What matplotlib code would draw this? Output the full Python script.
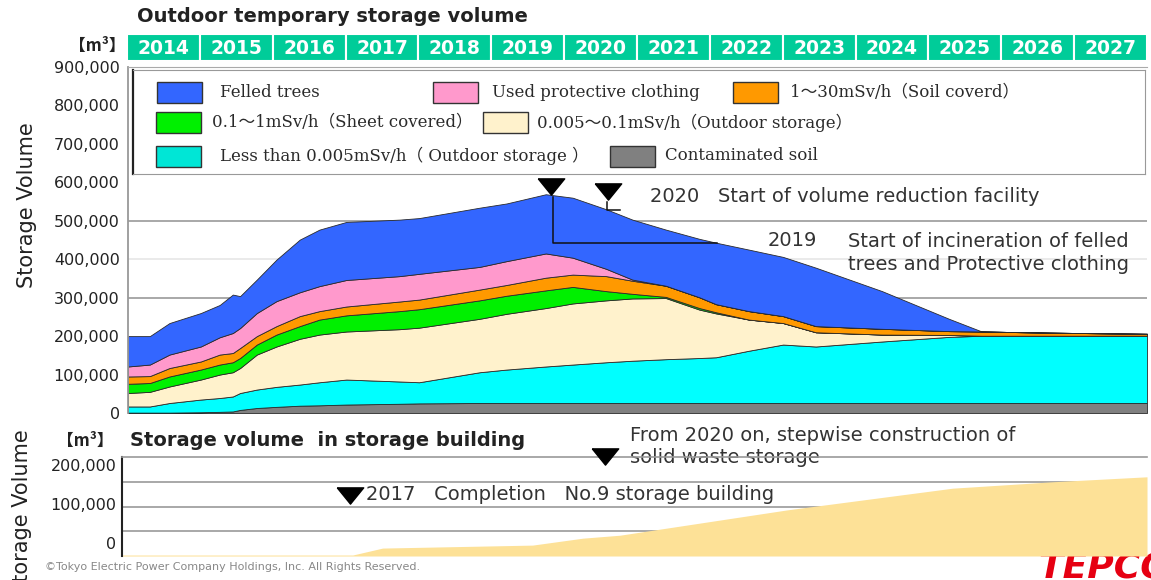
import matplotlib
matplotlib.use("Agg")
import matplotlib.pyplot as plt
from matplotlib.patches import Rectangle
from matplotlib.ticker import FuncFormatter

# ---------------- data (thousand m3) ----------------
years = list(range(2014, 2028))

t = [2014.0, 2014.3, 2014.57, 2015.0, 2015.26, 2015.44, 2015.54, 2015.77, 2016.04, 2016.36,
     2016.63, 2017.0, 2017.73, 2018.0, 2018.83, 2019.2, 2019.74, 2020.11, 2020.57, 2020.93,
     2021.39, 2021.85, 2022.08, 2022.53, 2023.0, 2023.45, 2024.36, 2025.28, 2025.73, 2026.65, 2028.0]

soil       = [1, 1, 1, 2, 3, 4, 8, 13, 16, 19, 20, 22, 24, 25, 26, 26, 26, 26, 26, 26,
              26, 26, 26, 26, 26, 26, 26, 26, 26, 26, 26]
below_0005 = [16, 16, 25, 33, 36, 39, 44, 48, 52, 55, 60, 65, 58, 55, 80, 87, 95, 100, 106, 110,
              114, 117, 119, 136, 152, 147, 160, 172, 175, 175, 175]
r0005_01   = [35, 38, 43, 52, 61, 63, 65, 91, 105, 119, 124, 125, 136, 142, 139, 145, 152, 159, 161, 162,
              159, 126, 114, 81, 56, 37, 18, 5, 0, 0, 0]
r01_1      = [24, 23, 26, 26, 26, 26, 26, 26, 31, 33, 39, 42, 47, 48, 48, 47, 46, 43, 24, 12,
              3, 4, 3, 0, 0, 0, 0, 0, 0, 0, 0]
r1_30      = [19, 18, 22, 21, 26, 24, 26, 22, 22, 26, 22, 23, 25, 25, 28, 28, 33, 32, 39, 34,
              29, 28, 21, 22, 18, 16, 15, 10, 11, 8, 5]
clothing   = [26, 30, 35, 39, 45, 52, 52, 60, 65, 62, 65, 69, 66, 67, 59, 62, 63, 44, 19, 3,
              0, 0, 0, 0, 0, 0, 0, 0, 0, 0, 0]
felled     = [79, 74, 82, 87, 84, 100, 83, 87, 108, 137, 147, 151, 147, 145, 154, 150, 154, 156, 155, 156,
              146, 152, 160, 160, 154, 152, 98, 32, 0, 0, 0]

bld_t = [2013.92, 2017.09, 2017.5, 2019.56, 2020.25, 2020.76, 2023.05, 2025.33, 2026.71, 2028.0]
bld_v = [2, 2, 16, 22, 36, 42, 93, 137, 150, 160]

labels = ["Felled trees", "Used protective clothing", "1～30mSv/h（Soil coverd）",
          "0.1～1mSv/h（Sheet covered）", "0.005～0.1mSv/h（Outdoor storage）",
          "Less than 0.005mSv/h（ Outdoor storage ）", "Contaminated soil"]

C_SOIL, C_CYAN, C_BEIGE, C_GREEN = '#808080', '#00FFFF', '#FFF2CC', '#00F000'
C_ORANGE, C_PINK, C_BLUE = '#FF9900', '#FF99CC', '#3366FF'
C_HEAD = '#00CC99'
C_BLD = '#FDE197'

SANS = ['DejaVu Sans', 'Noto Sans CJK JP']
SERIF = ['DejaVu Serif', 'Noto Sans CJK JP']
CJK = ['Noto Sans CJK JP', 'DejaVu Sans']

W, H = 1151, 580
fig = plt.figure(figsize=(W / 100, H / 100), dpi=100)


def rect(l, tp, r, b):
    return [l / W, 1 - b / H, (r - l) / W, (b - tp) / H]


def fx(x):
    return x / W


def fy(y):
    return 1 - y / H


def kfmt(v, p=None):
    return f"{int(round(v * 1000)):,}"


tri = [(-1.3, 0.75), (1.3, 0.75), (0, -0.85), (-1.3, 0.75)]
ANN = dict(fontsize=14, family=SANS, color='#333')

# ---------------- top chart ----------------
ax = fig.add_axes(rect(128, 67, 1147, 413))
ax.set_xlim(2014, 2028)
ax.set_ylim(0, 900)
for v, c in [(300, '#9a9a9a'), (500, '#9a9a9a'), (400, '#e6e6e6')]:
    ax.axhline(v, color=c, lw=1.2, zorder=1)
ax.stackplot(t, soil, below_0005, r0005_01, r01_1, r1_30, clothing, felled,
             colors=[C_SOIL, C_CYAN, C_BEIGE, C_GREEN, C_ORANGE, C_PINK, C_BLUE],
             edgecolor='#2a2a2a', linewidth=0.6, zorder=2)
ax.set_xticks([])
ax.set_yticks(range(0, 901, 100))
ax.yaxis.set_major_formatter(FuncFormatter(kfmt))
ax.tick_params(axis='y', length=0, pad=6, labelsize=11.5, labelcolor='#222',
               labelfontfamily='DejaVu Sans')
for s in ['right', 'bottom']:
    ax.spines[s].set_visible(False)
ax.spines['left'].set_color('#999999')
ax.spines['left'].set_linewidth(1.3)
ax.spines['top'].set_color('#aaaaaa')

# event markers
ax.plot([2019.81], [590], marker=tri, ms=19, color='k', ls='none', clip_on=False, zorder=6)
ax.plot([2020.59], [577], marker=tri, ms=19, color='k', ls='none', clip_on=False, zorder=6)
ax.plot([2019.84, 2019.84, 2022.09], [563, 443, 443], color='#111', lw=1.1, zorder=5)
ax.plot([2020.58, 2020.58, 2020.76], [550, 527, 527], color='#111', lw=1.1, zorder=5)

# ---------------- legend box ----------------
lax = fig.add_axes(rect(133, 70, 1145, 174))
lax.set_xlim(133, 1145)
lax.set_ylim(174, 70)
lax.set_xticks([])
lax.set_yticks([])
for s in lax.spines.values():
    s.set_color('#999999')
lax.spines['left'].set_color('#222222')
lax.spines['left'].set_linewidth(1.6)
entries = [
    (C_BLUE, 157, 92.5, 220, labels[0]),
    (C_PINK, 433, 92.5, 492, labels[1]),
    (C_ORANGE, 733, 92.5, 790, labels[2]),
    (C_GREEN, 156, 122.5, 212, labels[3]),
    (C_BEIGE, 483, 122.5, 537, labels[4]),
    ('#00E6D6', 156, 156, 220, labels[5]),
    (C_SOIL, 610, 156, 665, labels[6]),
]
for col, px0, ry, tx, lab in entries:
    lax.add_patch(Rectangle((px0, ry - 10.5), 45, 21, facecolor=col, edgecolor='#333333', lw=1))
    lax.text(tx, ry, lab, va='center', ha='left', fontsize=12, family=SERIF, color='#2a2a2a')

# ---------------- year header ----------------
hax = fig.add_axes(rect(127, 34, 1147, 61))
hax.set_xlim(2014, 2028)
hax.set_ylim(0, 1)
hax.axis('off')
for yr in years:
    hax.add_patch(Rectangle((yr, 0), 1, 1, facecolor=C_HEAD, edgecolor='white', lw=1.5))
    hax.text(yr + 0.5, 0.47, str(yr), ha='center', va='center', color='white',
             fontsize=13.5, weight='bold', family=SANS)

# ---------------- bottom chart ----------------
bax = fig.add_axes(rect(122, 457, 1147, 556))
bax.set_facecolor('none')
bax.set_xlim(2013.92, 2028)
bax.set_ylim(0, 200)
for v in [50, 100, 150]:
    bax.axhline(v, color='#9a9a9a', lw=1.2, zorder=1)
bax.fill_between(bld_t, bld_v, 0, color=C_BLD, lw=0, zorder=2)
bax.set_xticks([])
bax.set_yticks([])
# value labels of the y scale (nudged like the original slide)
for v, dy in [(0, 8), (100, 1), (200, -7)]:
    bax.annotate(kfmt(v), xy=(0, v), xycoords=('axes fraction', 'data'),
                 xytext=(-4, dy), textcoords='offset points', ha='right', va='center',
                 fontsize=11.5, family='DejaVu Sans', color='#222', annotation_clip=False)
for s in ['right', 'bottom']:
    bax.spines[s].set_visible(False)
bax.spines['top'].set_color('#9a9a9a')
bax.spines['top'].set_linewidth(1.2)
bax.spines['left'].set_color('#222222')
bax.spines['left'].set_linewidth(1.5)
bax.plot([2017.05], [123], marker=tri, ms=19, color='k', ls='none', clip_on=False, zorder=6)
bax.plot([2020.56], [202], marker=tri, ms=19, color='k', ls='none', clip_on=False, zorder=6)

# ---------------- texts ----------------
fig.text(fx(137), fy(17), "Outdoor temporary storage volume", fontsize=14, weight='bold',
         family=SANS, va='center', ha='left', color='#222')
fig.text(fx(126), fy(46), "【m³】", fontsize=12, weight='bold', family=CJK,
         va='center', ha='right', color='#222')
fig.text(fx(27), fy(205), "Storage Volume", rotation=90, fontsize=15, family=SANS,
         va='center', ha='center', color='#222')
fig.text(fx(650), fy(196), "2020   Start of volume reduction facility", va='center', ha='left', **ANN)
fig.text(fx(768), fy(241), "2019", va='center', ha='left', **ANN)
fig.text(fx(988), fy(253), "Start of incineration of felled\ntrees and Protective clothing",
         va='center', ha='center', linespacing=1.23, **ANN)

fig.text(fx(130), fy(441), "Storage volume  in storage building", fontsize=14, weight='bold',
         family=SANS, va='center', ha='left', color='#222')
fig.text(fx(113), fy(441), "【m³】", fontsize=12, weight='bold', family=CJK,
         va='center', ha='right', color='#222')
fig.text(fx(22), fy(512), "Storage Volume", rotation=90, fontsize=15, family=SANS,
         va='center', ha='center', color='#222')
fig.text(fx(630), fy(446.5), "From 2020 on, stepwise construction of\nsolid waste storage",
         va='center', ha='left', linespacing=1.18, zorder=-1, **ANN)
fig.text(fx(366), fy(495), "2017   Completion   No.9 storage building", va='center', ha='left', **ANN)
fig.text(fx(45), fy(567), "©Tokyo Electric Power Company Holdings, Inc. All Rights Reserved.",
         fontsize=8, family=SANS, va='center', ha='left', color='#888')
fig.text(fx(1038), fy(578), "TEPCO", fontsize=26, weight='bold', style='italic',
         family=SANS, va='baseline', ha='left', color='#E60012', zorder=-1)

fig.savefig("out.png", dpi=100)
